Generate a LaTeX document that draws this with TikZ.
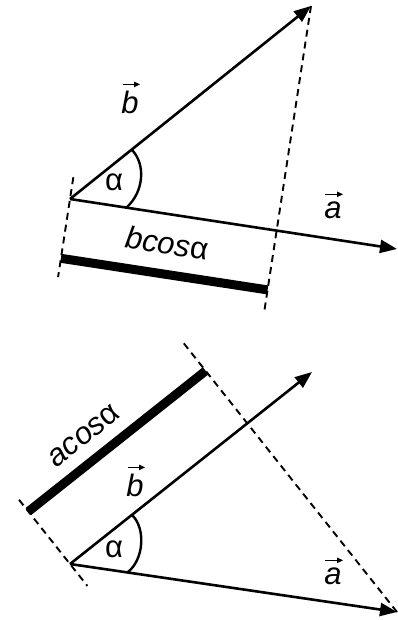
\documentclass[tikz,border=0pt]{standalone}
\usepackage{fontspec}
\setmainfont{Liberation Sans}
\usetikzlibrary{calc,arrows.meta}
\begin{document}
\begin{tikzpicture}[x=1pt,y=-1pt,
  vec/.style={line width=2.6pt,-{Triangle[length=17pt,width=13pt]}},
  proj/.style={line width=1.9pt,dash pattern=on 7pt off 5pt},
  bar/.style={line width=9pt},
  arcline/.style={line width=2.4pt},
  lbl/.style={font=\fontsize{31}{34}\selectfont,inner sep=0pt},
  vecarr/.style={line width=1pt,-{Triangle[length=6pt,width=5.5pt]}}]
\useasboundingbox (0,0) rectangle (398,620);
% ---------- top figure ----------
\coordinate (O1) at (70,199);
\coordinate (B1) at (311,6);
\coordinate (A1) at (397,249);
\coordinate (P1) at ($(O1)!(B1)!(A1)$);
\draw[proj] ($(O1)!22pt!90:(A1)$) -- ($(O1)!79pt!-90:(A1)$);
\draw[proj] (B1) -- ($(P1)!80pt!-90:(A1)$);
\draw[bar] ($(O1)!60pt!-90:(A1)$) -- ($(P1)!60pt!-90:(A1)$);
\draw[vec] (O1) -- (A1);
\draw[vec] (O1) -- (B1);
\draw[arcline] ($(O1)!79pt!(B1)$) .. controls (146,164) and (144,192) .. ($(O1)!57pt!(A1)$);
\node[lbl] (al1) at (114,182) {α};
\node[lbl,rotate=-8.7] (bc) at (167,243) {\textit{bcos}α};
\node[lbl] (lb1) at (130,102) {\textit{b}};
\draw[vecarr] ([xshift=-7pt,yshift=6pt]lb1.north) -- ([xshift=10pt,yshift=6pt]lb1.north);
\node[lbl] (la1) at (333,210) {\textit{a}};
\draw[vecarr] ([xshift=-8pt,yshift=7pt]la1.north) -- ([xshift=10pt,yshift=7pt]la1.north);
% ---------- bottom figure ----------
\coordinate (O2) at (70,564);
\coordinate (B2) at (312,372);
\coordinate (A2) at (397,612);
\coordinate (Q2) at ($(O2)!(A2)!(B2)$);
\draw[proj] ($(O2)!82pt!90:(B2)$) -- ($(O2)!28pt!-90:(B2)$);
\draw[proj] (A2) -- ($(Q2)!104pt!90:(B2)$);
\draw[bar] ($(O2)!67pt!90:(B2)$) -- ($(Q2)!67pt!90:(B2)$);
\draw[vec] (O2) -- (A2);
\draw[vec] (O2) -- (B2);
\draw[arcline] ($(O2)!79pt!(B2)$) .. controls (146,528) and (144,560) .. ($(O2)!58pt!(A2)$);
\node[lbl] (al2) at (114,549) {α};
\node[lbl,rotate=38.4] (ac) at (84,436) {\textit{acos}α};
\node[lbl] (lb2) at (135,485) {\textit{b}};
\draw[vecarr] ([xshift=-7pt,yshift=6pt]lb2.north) -- ([xshift=10pt,yshift=6pt]lb2.north);
\node[lbl] (la2) at (333,576) {\textit{a}};
\draw[vecarr] ([xshift=-8pt,yshift=7pt]la2.north) -- ([xshift=10pt,yshift=7pt]la2.north);
\end{tikzpicture}
\end{document}
